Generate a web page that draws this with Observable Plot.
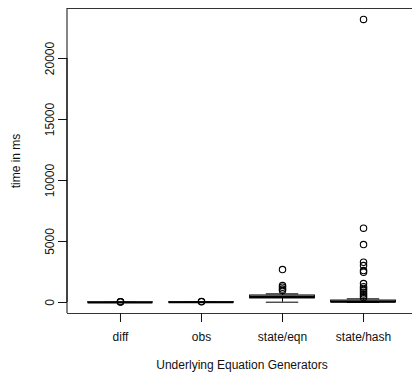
<!DOCTYPE html>
<html>
<head>
<meta charset="utf-8">
<script src="https://cdn.jsdelivr.net/npm/d3@7"></script>
<script src="https://cdn.jsdelivr.net/npm/@observablehq/plot@0.6"></script>
<style>
html, body { margin: 0; padding: 0; background: white; overflow: hidden; }
#chart svg { overflow: hidden; }
</style>
</head>
<body>
<div id="chart"></div>
<script>
const categories = ["diff", "obs", "state/eqn", "state/hash"];
const lowerWhisker = [0, 0, 25, 0];
const q1 = [2, 3, 330, 10];
const median = [8, 10, 450, 60];
const q3 = [15, 18, 575, 160];
const upperWhisker = [25, 35, 710, 300];
const outliers = [
  [40, 55, 70],
  [60, 75],
  [980, 1100, 1250, 1390, 2700],
  [400, 550, 700, 850, 1000, 1150, 1300, 1550, 2480, 2620, 3030, 3300, 4750, 6090, 23200]
];
const yTicks = [0, 5000, 10000, 15000, 20000];
const xTitle = "Underlying Equation Generators";
const yTitle = "time in ms";

const stats = categories.map((c, i) => ({
  pos: i + 1, cat: c,
  lo: lowerWhisker[i], q1: q1[i], med: median[i], q3: q3[i], hi: upperWhisker[i]
}));
const pts = outliers.flatMap((arr, i) => arr.map(v => ({pos: i + 1, v})));

const xDomain = [0.34, 4.66];
const yDomain = [-902, 24098];
const font = "Liberation Sans, Arial, sans-serif";

const chart = Plot.plot({
  width: 412,
  height: 375,
  marginLeft: 67,
  marginTop: 8,
  marginBottom: 62,
  marginRight: 0,
  style: {fontFamily: font, fontSize: "12px", color: "#111", background: "white"},
  x: {type: "linear", domain: xDomain, range: [66.5, 416.5]},
  y: {domain: yDomain},
  marks: [
    // frame lines (left, top, bottom)
    Plot.ruleX([xDomain[0]], {stroke: "#333", strokeWidth: 1.2}),
    Plot.ruleY([yDomain[0], yDomain[1]], {stroke: "#333", strokeWidth: 1.2}),
    // whiskers
    Plot.ruleX(stats, {x: "pos", y1: "q3", y2: "hi", stroke: "black", strokeDasharray: "4,3"}),
    Plot.ruleX(stats, {x: "pos", y1: "lo", y2: "q1", stroke: "black", strokeDasharray: "4,3"}),
    Plot.ruleY(stats, {y: "hi", x1: d => d.pos - 0.2, x2: d => d.pos + 0.2, stroke: "black"}),
    Plot.ruleY(stats, {y: "lo", x1: d => d.pos - 0.2, x2: d => d.pos + 0.2, stroke: "black"}),
    // boxes
    Plot.rect(stats, {x1: d => d.pos - 0.4, x2: d => d.pos + 0.4, y1: "q1", y2: "q3", fill: "#aaaaaa", stroke: "black", strokeWidth: 1}),
    // medians
    Plot.ruleY(stats, {y: "med", x1: d => d.pos - 0.4, x2: d => d.pos + 0.4, stroke: "black", strokeWidth: 2}),
    // outliers
    Plot.dot(pts, {x: "pos", y: "v", r: 3.2, stroke: "black", strokeWidth: 1.1, fill: "none"}),
    // axes
    Plot.axisX(stats.map(d => d.pos), {tickSize: 9, tickPadding: 10, tickFormat: i => categories[i - 1], fontSize: 12, label: null}),
    Plot.axisY(yTicks, {tickSize: 9, tickPadding: 5, tickRotate: -90, fontSize: 12, label: null, tickFormat: d => String(d)}),
    Plot.ruleX([xDomain[0]], {y1: yTicks[0], y2: yTicks[yTicks.length - 1], stroke: "black"}),
    Plot.text([xTitle], {frameAnchor: "bottom", x: 2.5, dy: 55, fontSize: 12, textAnchor: "middle"}),
    Plot.text([yTitle], {frameAnchor: "left", dx: -51, rotate: -90, fontSize: 12, textAnchor: "middle"})
  ]
});
document.getElementById("chart").appendChild(chart);
</script>
</body>
</html>
